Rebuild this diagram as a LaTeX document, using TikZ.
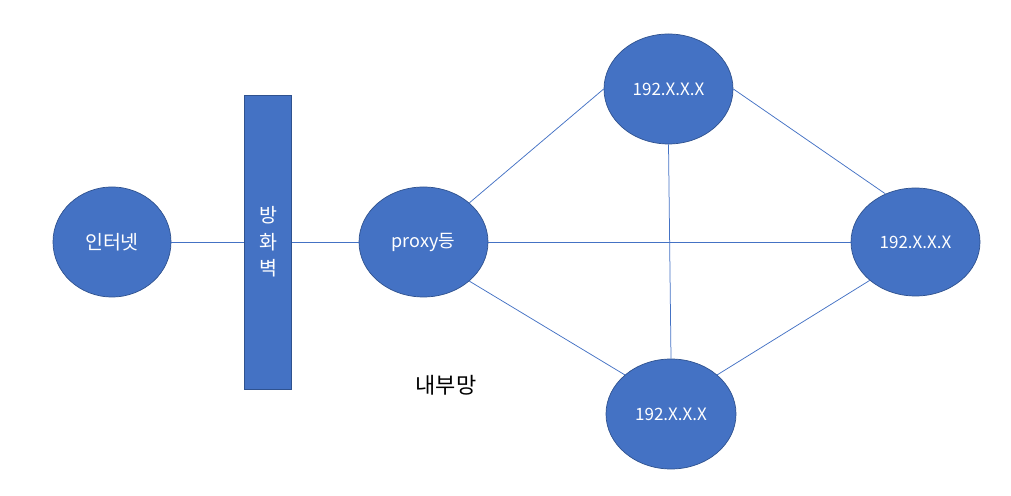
\documentclass[tikz,border=0pt]{standalone}
\usepackage{fontspec}
\setmainfont{Noto Sans CJK KR}
\usetikzlibrary{shapes.geometric}
\definecolor{nodeblue}{HTML}{4472C4}
\definecolor{rimblue}{HTML}{2F528F}

\begin{document}
\begin{tikzpicture}[
    x=1pt, y=1pt,
    host/.style={ellipse, draw=rimblue, fill=nodeblue, line width=0.7pt, minimum width=129pt, minimum height=110pt, inner sep=0pt, text=white, font=\fontsize{17}{20}\selectfont},
    wall/.style={rectangle, draw=rimblue, fill=nodeblue, line width=0.7pt, minimum width=47pt, minimum height=294pt, inner sep=0pt, align=center, text=white, font=\fontsize{19.5}{26.5}\selectfont},
    link/.style={draw=nodeblue, line width=0.75pt}
]
\useasboundingbox (0,0) rectangle (1011,495);

\node[host, minimum width=118pt, font=\fontsize{19.5}{22}\selectfont] (inet) at (112,253) {인터넷};
\node[wall] (fw) at (268,253) {방\\화\\벽};
\node[host, font=\fontsize{18}{21}\selectfont] (proxy) at (423.5,253) {proxy등};
\node[host] (top) at (668.5,406) {192.X.X.X};
\node[host, minimum height=108pt] (right) at (915.5,253) {192.X.X.X};
\node[host, minimum width=130pt] (bot) at (671,81) {192.X.X.X};
\node[font=\fontsize{22}{26}\selectfont] (lan) at (446,110) {내부망};

\draw[link] (inet) -- (fw);
\draw[link] (fw) -- (proxy);
\draw[link] (proxy.north east) -- (top.west);
\draw[link] (proxy.east) -- (right.west);
\draw[link] (proxy.south east) -- (bot.north west);
\draw[link] (top.east) -- (right.122);
\draw[link] (top.south) -- (bot.north);
\draw[link] (bot.north east) -- (right.south west);
\end{tikzpicture}
\end{document}
